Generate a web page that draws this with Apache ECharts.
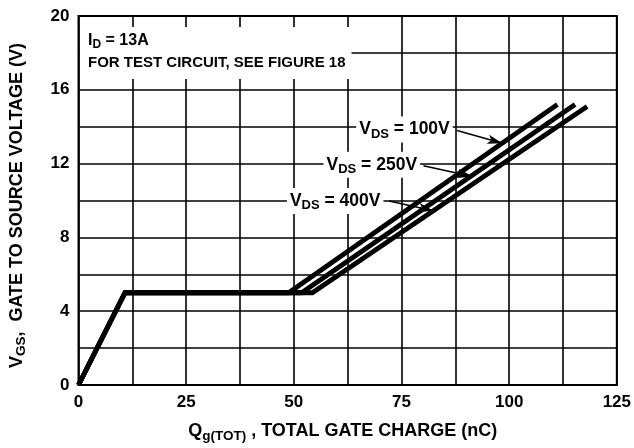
<!DOCTYPE html>
<html>
<head>
<meta charset="utf-8">
<script src="https://cdn.jsdelivr.net/npm/echarts@6/dist/echarts.min.js"></script>
<style>html,body{margin:0;padding:0;background:#fff}#c{width:634px;height:448px}</style>
</head>
<body>
<div id="c"></div>
<script>
// ---- data ----
const xTicks = [0, 25, 50, 75, 100, 125];
const yTicks = [0, 4, 8, 12, 16, 20];
const vds100 = [[0, 0], [10.8, 5], [48.8, 5], [111.2, 15.2]];
const vds250 = [[0, 0], [10.8, 5], [51.8, 5], [115.3, 15.2]];
const vds400 = [[0, 0], [10.8, 5], [54.3, 5], [118.1, 15.1]];
const curveNames = ['100V', '250V', '400V'];
const labelCoords = [[75.7, 13.85], [68.1, 11.94], [59.6, 9.97]];
const arrowFrom = [[87.9, 13.79], [80.1, 11.88], [72.1, 9.97]];
const arrowTo = [[98.4, 13.1], [91.5, 11.3], [82.4, 9.44]];

const FF = '"Liberation Sans", Arial, sans-serif';
const rich = {
  n: { fontFamily: FF, fontWeight: 'bold', fontSize: 17.5, color: '#000' },
  s: { fontFamily: FF, fontWeight: 'bold', fontSize: 13, color: '#000', padding: [9, 0, 0, 0] },
  an: { fontFamily: FF, fontWeight: 'bold', fontSize: 18, color: '#000' },
  as: { fontFamily: FF, fontWeight: 'bold', fontSize: 13.5, color: '#000', padding: [9, 0, 0, 0] },
  t: { fontFamily: FF, fontWeight: 'bold', fontSize: 15, color: '#000', lineHeight: 22 },
  tb: { fontFamily: FF, fontWeight: 'bold', fontSize: 16, color: '#000', lineHeight: 22 },
  ts: { fontFamily: FF, fontWeight: 'bold', fontSize: 12, color: '#000', padding: [7, 0, 0, 0], lineHeight: 22 }
};

const chart = echarts.init(document.getElementById('c'), null, { renderer: 'canvas' });
const seriesData = [vds100, vds250, vds400];
const series = seriesData.map((d, i) => ({
  type: 'line',
  data: d,
  symbol: 'none',
  lineStyle: { color: '#000', width: 4.8, cap: 'butt', join: 'miter' },
  z: 3,
  markLine: {
    silent: true,
    symbol: ['none', 'arrow'],
    symbolSize: [7, 15],
    lineStyle: { color: '#000', width: 1.6, type: 'solid' },
    label: { show: false },
    data: [[{ coord: arrowFrom[i] }, { coord: arrowTo[i] }]],
    z: 5
  },
  markPoint: {
    silent: true,
    symbol: 'rect',
    symbolSize: 0,
    data: [{
      coord: labelCoords[i],
      label: {
        show: true,
        position: 'inside',
        formatter: '{n|V}{s|DS}{n| = ' + curveNames[i] + '}',
        rich: rich,
        backgroundColor: '#fff',
        padding: [2, 3, 2, 3]
      }
    }],
    z: 6
  }
}));

chart.setOption({
  animation: false,
  backgroundColor: '#fff',
  title: {
    left: 80,
    top: 27,
    text: '{tb|I}{ts|D}{tb| = 13A}\n{t|FOR TEST CIRCUIT, SEE FIGURE 18}',
    backgroundColor: '#fff',
    padding: [3, 6, 5, 8],
    textStyle: { rich: rich, fontFamily: FF, fontWeight: 'bold', fontSize: 15, lineHeight: 22 }
  },
  grid: {
    left: 75, right: 16, top: 16, bottom: 55,
    show: true, borderColor: '#000', borderWidth: 2, backgroundColor: 'transparent'
  },
  xAxis: {
    type: 'value', min: 0, max: 125, interval: 12.5,
    axisLine: { show: false }, axisTick: { show: false },
    splitLine: { show: true, lineStyle: { color: '#000', width: 1.6 } },
    axisLabel: {
      margin: 9, color: '#000', fontFamily: FF, fontWeight: 'bold', fontSize: 17,
      formatter: v => (xTicks.indexOf(v) >= 0 ? String(v) : '')
    },
    name: '{an|Q}{as|g(TOT)}{an| , TOTAL GATE CHARGE (nC)}',
    nameLocation: 'middle', nameGap: 35,
    nameTextStyle: { rich: rich, padding: [0, 10, 0, 0] }
  },
  yAxis: {
    type: 'value', min: 0, max: 20, interval: 2,
    axisLine: { show: false }, axisTick: { show: false },
    splitLine: { show: true, lineStyle: { color: '#000', width: 1.6 } },
    axisLabel: {
      margin: 9, color: '#000', fontFamily: FF, fontWeight: 'bold', fontSize: 17,
      formatter: v => (yTicks.indexOf(v) >= 0 ? String(v) : '')
    },
    name: '{an|V}{as|GS}{an|,  GATE TO SOURCE VOLTAGE (V)}',
    nameLocation: 'middle', nameGap: 50, nameRotate: 90,
    nameTextStyle: { rich: rich, padding: [0, 10, 0, 0] }
  },
  series: series
});
</script>
</body>
</html>
